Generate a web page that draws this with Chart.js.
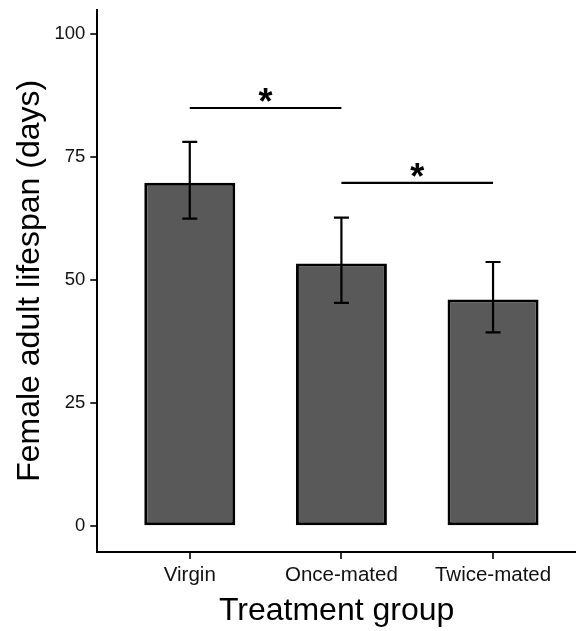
<!DOCTYPE html>
<html>
<head>
<meta charset="utf-8">
<script src="https://cdn.jsdelivr.net/npm/chart.js@4"></script>
<style>
  html, body { margin: 0; padding: 0; background: #fff; overflow: hidden; }
  canvas { display: block; }
</style>
</head>
<body>
<canvas id="lifespan-chart" width="576" height="631"></canvas>
<script>
const groups = ['Virgin', 'Once-mated', 'Twice-mated'];
const groupPos = [1, 2, 3];
const meanLifespan = [69.8, 53.4, 46.1];
const errLow = [62.5, 45.4, 39.4];
const errHigh = [78.1, 62.7, 53.7];
const yTicks = [0, 25, 50, 75, 100];

// significance brackets
const sigFrom = [1, 2];
const sigTo = [2, 3];
const sigLevel = [85.0, 69.8];
const sigLabel = ['*', '*'];

const fontFamily = '"Liberation Sans", Arial, sans-serif';

const overlayPlugin = {
    id: 'overlay',
    afterDatasetsDraw(chart) {
        const { ctx, scales: { x, y } } = chart;
        ctx.save();
        ctx.strokeStyle = '#000';
        ctx.lineWidth = 2.2;
        ctx.lineCap = 'butt';

        // error bars
        groupPos.forEach((g, i) => {
            const px = x.getPixelForValue(g);
            const top = y.getPixelForValue(errHigh[i]);
            const bot = y.getPixelForValue(errLow[i]);
            ctx.beginPath();
            ctx.moveTo(px, top);
            ctx.lineTo(px, bot);
            ctx.moveTo(px - 7.5, top);
            ctx.lineTo(px + 7.5, top);
            ctx.moveTo(px - 7.5, bot);
            ctx.lineTo(px + 7.5, bot);
            ctx.stroke();
        });

        // brackets + stars
        ctx.fillStyle = '#000';
        ctx.font = 'bold 36px ' + fontFamily;
        ctx.textAlign = 'center';
        ctx.textBaseline = 'alphabetic';
        sigLevel.forEach((lvl, i) => {
            const x1 = x.getPixelForValue(sigFrom[i]);
            const x2 = x.getPixelForValue(sigTo[i]);
            const py = y.getPixelForValue(lvl);
            ctx.beginPath();
            ctx.moveTo(x1, py);
            ctx.lineTo(x2, py);
            ctx.stroke();

            const m = ctx.measureText(sigLabel[i]);
            const cy = py - 13;
            const base = cy + (m.actualBoundingBoxAscent - m.actualBoundingBoxDescent) / 2;
            ctx.fillText(sigLabel[i], (x1 + x2) / 2, base);
        });
        ctx.restore();
    }
};

const chart = new Chart(document.getElementById('lifespan-chart'), {
    type: 'bar',
    data: {
        datasets: [{
            data: groupPos.map((g, i) => ({ x: g, y: meanLifespan[i] })),
            backgroundColor: '#595959',
            borderColor: '#000',
            borderWidth: 3,
            borderSkipped: false,
            categoryPercentage: 1,
            barPercentage: 0.6
        }]
    },
    options: {
        responsive: false,
        animation: false,
        layout: { padding: { left: 0, right: 0, top: 0, bottom: 0 } },
        plugins: {
            legend: { display: false },
            tooltip: { enabled: false }
        },
        scales: {
            x: {
                type: 'linear',
                min: 0.39,
                max: 3.547,
                offset: false,
                afterBuildTicks: (axis) => {
                    axis.ticks = groupPos.map((v) => ({ value: v }));
                },
                ticks: {
                    autoSkip: false,
                    maxRotation: 0,
                    padding: 4,
                    color: '#111',
                    font: { family: fontFamily, size: 20.5 },
                    callback: (value) => groups[groupPos.indexOf(value)]
                },
                grid: {
                    display: true,
                    offset: false,
                    drawOnChartArea: false,
                    drawTicks: true,
                    tickLength: 7,
                    color: '#333',
                    lineWidth: 2
                },
                border: { display: true, color: '#000', width: 2 },
                title: {
                    display: true,
                    text: 'Treatment group',
                    color: '#000',
                    font: { family: fontFamily, size: 32 },
                    padding: { top: 0, bottom: 1 }
                }
            },
            y: {
                min: -5.25,
                max: 105,
                afterBuildTicks: (axis) => {
                    axis.ticks = yTicks.map((v) => ({ value: v }));
                },
                ticks: {
                    padding: 5,
                    color: '#111',
                    font: { family: fontFamily, size: 18.5, lineHeight: 0.5 }
                },
                grid: {
                    display: true,
                    drawOnChartArea: false,
                    drawTicks: true,
                    tickLength: 7,
                    color: '#333',
                    lineWidth: 2
                },
                border: { display: true, color: '#000', width: 2 },
                title: {
                    display: true,
                    text: 'Female adult lifespan (days)',
                    color: '#000',
                    font: { family: fontFamily, size: 32 },
                    padding: { top: 11, bottom: 0 }
                }
            }
        }
    },
    plugins: [overlayPlugin]
});
</script>
</body>
</html>
